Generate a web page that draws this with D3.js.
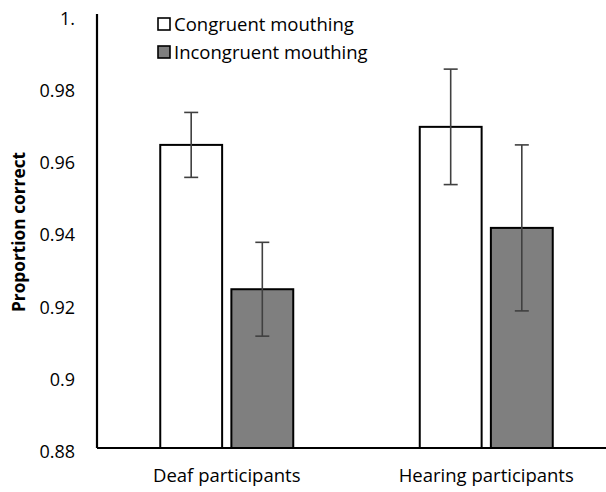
<!DOCTYPE html>
<html>
<head>
<meta charset="utf-8">
<script src="https://cdn.jsdelivr.net/npm/d3@7"></script>
<style>
  html, body { margin: 0; padding: 0; background: #fff; }
  svg { display: block; }
  text { font-family: "Open Sans", sans-serif; fill: #000; }
</style>
</head>
<body>
<svg id="chart" width="606" height="492"></svg>
<script>
// Proportion correct by participant group and mouthing condition
const groups = ["Deaf participants", "Hearing participants"];
const conditions = ["Congruent mouthing", "Incongruent mouthing"];
const means = {
  "Congruent mouthing":   [0.964, 0.969],
  "Incongruent mouthing": [0.924, 0.941]
};
const errors = {
  "Congruent mouthing":   [0.009, 0.016],
  "Incongruent mouthing": [0.013, 0.023]
};
const yTicks = [0.88, 0.9, 0.92, 0.94, 0.96, 0.98, 1.0];
const yTickLabels = ["0.88", "0.9", "0.92", "0.94", "0.96", "0.98", "1."];
const fills = ["#ffffff", "#7f7f7f"];

const svg = d3.select("#chart");
const plotLeft = 97, plotRight = 616, plotTop = 15, plotBottom = 448;

const x = d3.scaleBand().domain(groups).range([plotLeft, plotRight]).paddingInner(0).paddingOuter(0);
const xInner = d3.scaleBand().domain(conditions).range([0, 133]).paddingInner(0.13);
const offset = (x.bandwidth() - 133) / 2;
const y = d3.scaleLinear().domain([0.88, 1.0]).range([plotBottom, plotTop]);

// bars
const rows = [];
groups.forEach((g, gi) => conditions.forEach((c, ci) => {
  rows.push({ g, c, ci, v: means[c][gi], e: errors[c][gi] });
}));

svg.append("g").selectAll("rect").data(rows).join("rect")
  .attr("x", d => x(d.g) + offset + xInner(d.c))
  .attr("y", d => y(d.v))
  .attr("width", xInner.bandwidth())
  .attr("height", d => y(0.88) - y(d.v))
  .attr("fill", d => fills[d.ci])
  .attr("stroke", "#000")
  .attr("stroke-width", 2);

// error bars
const eb = svg.append("g").attr("stroke", "#404040").attr("stroke-width", 1.6);
rows.forEach(d => {
  const cx = x(d.g) + offset + xInner(d.c) + xInner.bandwidth() / 2;
  eb.append("line").attr("x1", cx).attr("x2", cx).attr("y1", y(d.v + d.e)).attr("y2", y(d.v - d.e));
  [d.v + d.e, d.v - d.e].forEach(t => {
    eb.append("line").attr("x1", cx - 7).attr("x2", cx + 7).attr("y1", y(t)).attr("y2", y(t));
  });
});

// y axis
const yAxis = d3.axisLeft(y).tickValues(yTicks)
  .tickFormat((d, i) => yTickLabels[i]).tickSize(0).tickPadding(22);
const gy = svg.append("g").attr("transform", `translate(${plotLeft},0)`).call(yAxis);
gy.select(".domain").attr("stroke", "#000").attr("stroke-width", 2.2).attr("d", `M0,${plotTop - 1}V${plotBottom}`);
gy.selectAll(".tick text").attr("font-size", 18).attr("font-family", "Open Sans").attr("fill", "#000").attr("dy", "0.52em");

// x axis
const xAxis = d3.axisBottom(x).tickSize(0).tickPadding(21);
const gx = svg.append("g").attr("transform", `translate(0,${plotBottom})`).call(xAxis);
gx.select(".domain").attr("stroke", "#000").attr("stroke-width", 2.2).attr("d", `M${plotLeft},0H${plotRight}`);
gx.selectAll(".tick text").attr("font-size", 18.5).attr("font-family", "Open Sans").attr("fill", "#000");

// y axis title
svg.append("text")
  .attr("transform", "translate(25,232) rotate(-90)")
  .attr("text-anchor", "middle")
  .attr("font-size", 17.3).attr("font-weight", "bold")
  .text("Proportion correct");

// legend
const lg = svg.append("g").attr("transform", "translate(158,18)");
conditions.forEach((c, i) => {
  const row = lg.append("g").attr("transform", `translate(0,${i * 28})`);
  row.append("rect").attr("width", 12).attr("height", 12)
    .attr("fill", fills[i]).attr("stroke", "#000").attr("stroke-width", 1.6);
  row.append("text").attr("x", 16).attr("y", 6).attr("dy", "0.36em")
    .attr("font-size", 18.5).text(c);
});
</script>
</body>
</html>
